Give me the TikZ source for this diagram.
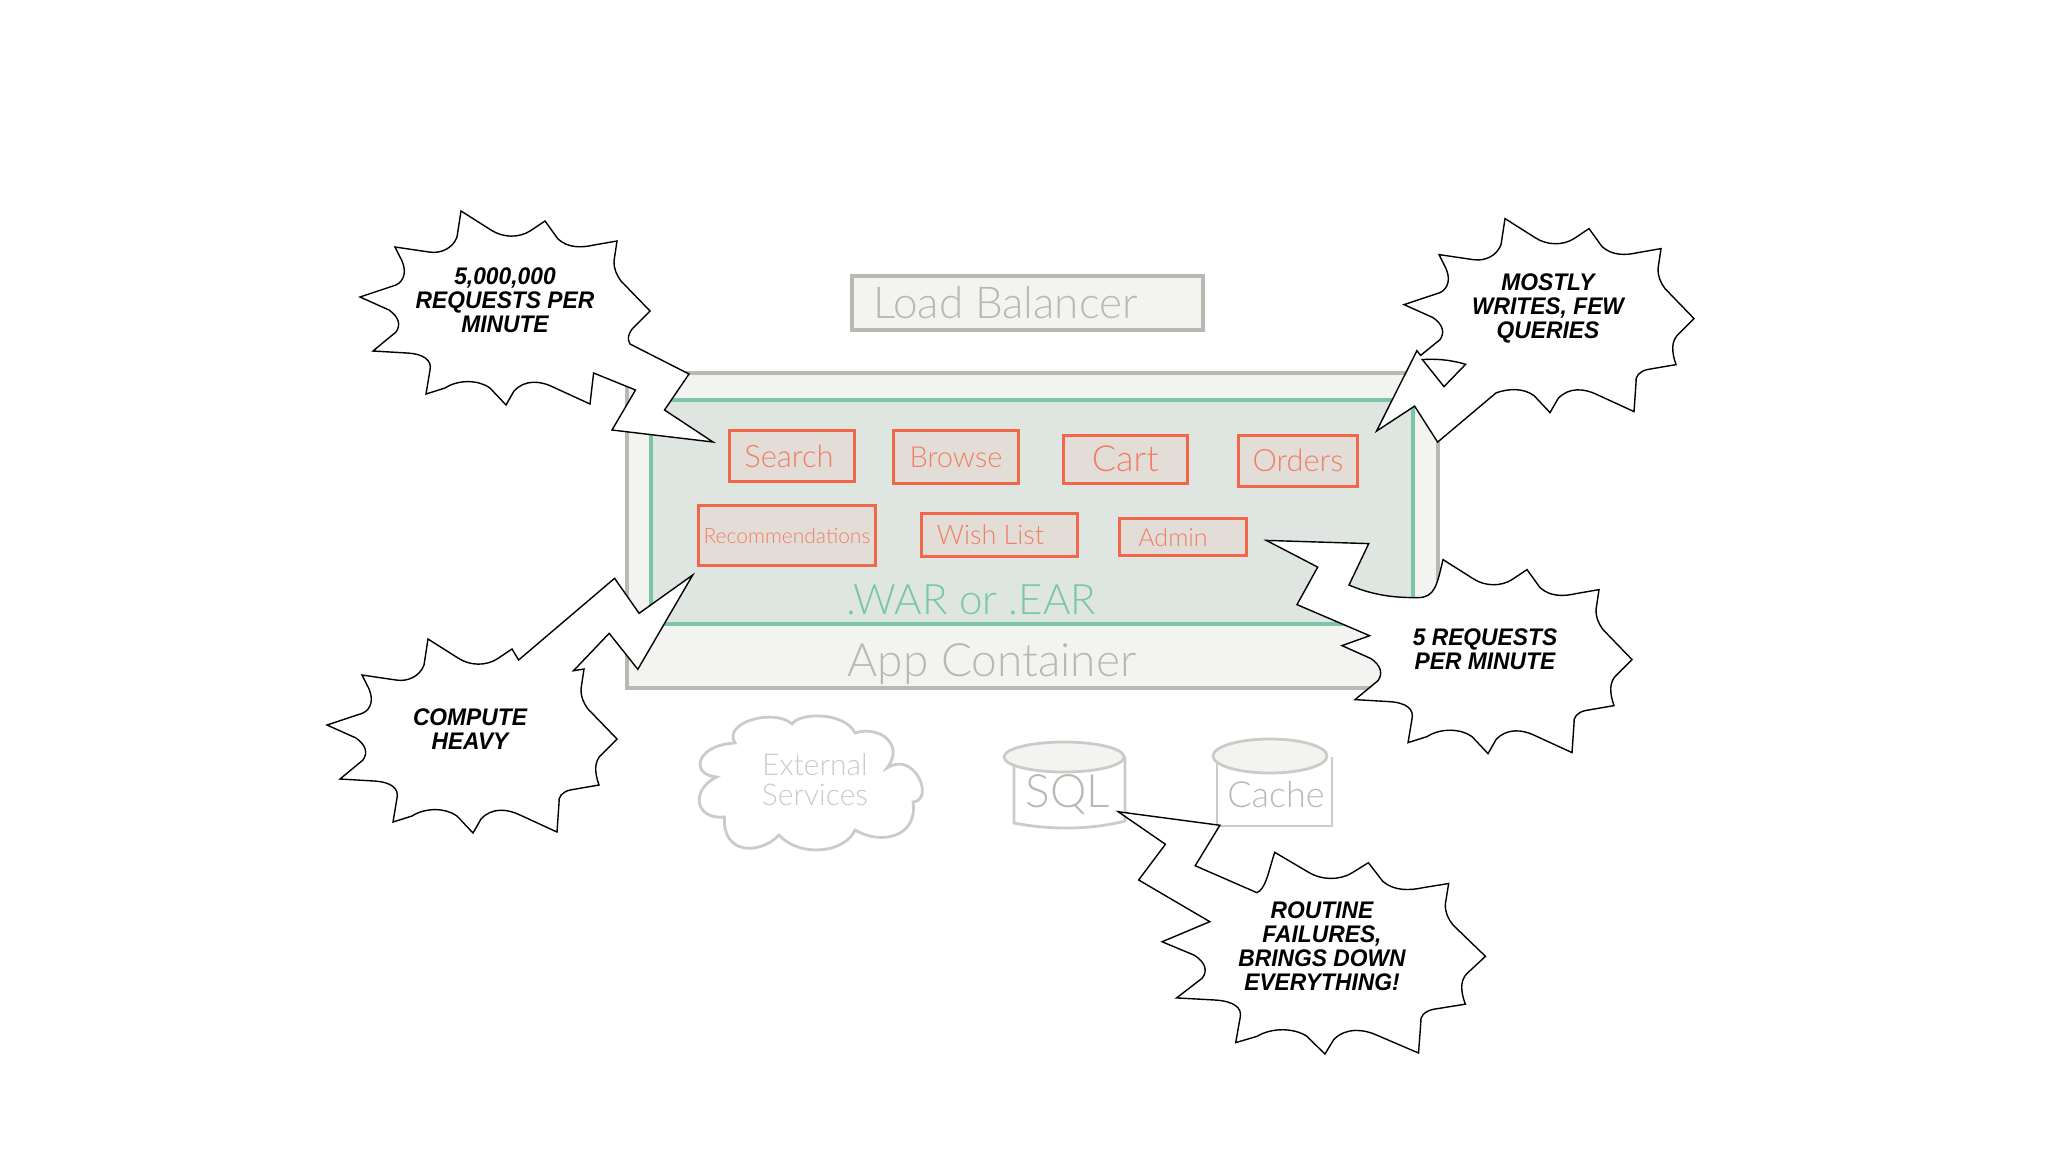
\documentclass[tikz,border=0pt]{standalone}
\usepackage{fontspec}
\newfontfamily\handfont{Lato Light}
\newfontfamily\shoutfont[FakeStretch=0.95]{Liberation Sans Bold Italic}
\definecolor{sketchgray}{HTML}{B9B9B4}
\definecolor{cloudgray}{HTML}{CBCBC7}
\definecolor{boxbg}{HTML}{F3F3F1}
\definecolor{warbg}{HTML}{DFE5E0}
\definecolor{wargreen}{HTML}{79C7A8}
\definecolor{modred}{HTML}{F0674A}
\definecolor{modbg}{HTML}{E3DDD7}
\newcommand{\hand}[1]{\handfont\fontsize{#1}{#1}\selectfont}
\tikzset{
	graybox/.style={draw=sketchgray, fill=boxbg, line width=2pt, inner sep=0pt, text=sketchgray},
	warbox/.style={draw=wargreen, fill=warbg, line width=2pt, inner sep=0pt},
	modbox/.style={draw=modred, fill=modbg, line width=1.5pt, inner sep=0pt, text=modred!85!white},
	dbline/.style={draw=cloudgray, line width=1.4pt},
	burst/.style={draw=black, fill=white, line width=.7pt},
	shout/.style={align=center, inner sep=0pt, font=\shoutfont\fontsize{12}{12}\selectfont}
}
\newcommand{\bursta}{-- (30,19) .. controls (42,27) and (58,27) .. (69,20) -- (84,10)}
\newcommand{\burstb}{-- (97,28) .. controls (107,37) and (120,37) .. (133,34) -- (156,30)}
\newcommand{\burstc}{-- (153,50) .. controls (153,58) and (155,63) .. (160,70) -- (189,100)}
\newcommand{\burstd}{-- (172,117) .. controls (167,123) and (166,132) .. (171,146)}
\newcommand{\burste}{-- (142,151) .. controls (134,153) and (130,158) .. (131,164) -- (129,193)}
\newcommand{\burstf}{-- (92,176) .. controls (80,170) and (64,168) .. (53,180) -- (45,194)}
\newcommand{\burstg}{-- (29,177) .. controls (18,169) and (-2,168) .. (-16,177) -- (-35,183)}
\newcommand{\bursth}{-- (-31,159) .. controls (-29,150) and (-36,143) .. (-54,142) -- (-88,140)}
\newcommand{\bursti}{-- (-65,121) .. controls (-60,114) and (-62,106) .. (-72,99) -- (-101,86)}
\newcommand{\burstj}{-- (-65,74) .. controls (-57,70) and (-53,60) .. (-61,46) -- (-66,36)}
\newcommand{\burstk}{-- (-32,41) .. controls (-20,43) and (-8,37) .. (-4,26) -- (0,0)}
\begin{document}
\begin{tikzpicture}[x=.5pt, y=-.5pt]
	\useasboundingbox (0,0) rectangle (2048,1152);
	\node[graybox, minimum width=175.5pt, minimum height=26.75pt, font=\hand{22}] (lb) at (1027.5,303) {Load Balancer\kern22pt};
	\node[graybox, minimum width=405.5pt, minimum height=157.5pt] (app) at (1032.5,530.5) {};
	\node[warbox, minimum width=381pt, minimum height=112pt] (war) at (1032,512) {};
	\node[text=sketchgray, font=\hand{23}, inner sep=0pt] (applabel) at (992,664) {App Container};
	\node[text=wargreen, font=\hand{21}, inner sep=0pt] (warlabel) at (971,600) {.WAR or .EAR};
	\node[modbox, minimum width=62.3pt, minimum height=25.9pt, font=\hand{15.5}] (search) at (792,456) {Search\kern3pt};
	\node[modbox, minimum width=62.5pt, minimum height=26.2pt, font=\hand{14.5}] (browse) at (956,457) {Browse};
	\node[modbox, minimum width=62pt, minimum height=24pt, font=\hand{18}] (cart) at (1125.3,459) {Cart};
	\node[modbox, minimum width=59.2pt, minimum height=25.7pt, font=\hand{15.4}] (orders) at (1298,460.7) {\raisebox{-2.5pt}{Orders}};
	\node[modbox, minimum width=88.6pt, minimum height=30pt, font=\hand{10.5}] (recs) at (787,535.7) {\raisebox{-1.5pt}{Recommendations}};
	\node[modbox, minimum width=77.7pt, minimum height=21.8pt, font=\hand{13.5}] (wish) at (999.3,535) {Wish List\kern9pt};
	\node[modbox, minimum width=63.8pt, minimum height=18.4pt, font=\hand{12.5}] (admin) at (1183,537) {Admin\kern10pt};
	\draw[dbline, fill=white] (735,743) .. controls (722,722) and (775,708) .. (792,724)
		.. controls (800,712) and (845,712) .. (855,733)
		.. controls (880,725) and (905,745) .. (887,768)
		.. controls (915,750) and (935,800) .. (913,802)
		.. controls (918,838) and (880,845) .. (855,830)
		.. controls (845,853) and (800,858) .. (779,835)
		.. controls (760,855) and (722,855) .. (724.5,817)
		.. controls (695,820) and (690,790) .. (716.6,777)
		.. controls (690,775) and (695,745) .. (735,743) -- cycle;
	\node[text=cloudgray, align=center, inner sep=0pt, font=\handfont\fontsize{15}{15}\selectfont] (extern) at (815,780) {External\\Services};
	\draw[dbline, fill=white] (1014,757) -- (1014,823) .. controls (1050,830) and (1090,830) .. (1125,821) -- (1125,757);
	\draw[dbline, fill=boxbg] (1064,757) ellipse [x radius=60, y radius=15];
	\node[text=sketchgray, font=\hand{23}, inner sep=0pt] (sql) at (1068,795) {SQL};
	\draw[dbline, fill=white] (1217,757) -- (1217,826) -- (1332,826) -- (1332,757);
	\draw[dbline, fill=boxbg] (1270,756) ellipse [x radius=57, y radius=17];
	\node[text=sketchgray, font=\hand{18}, inner sep=0pt] (cache) at (1276,795) {Cache};
	\draw[burst, shift={(461,211)}] (0,0) \bursta \burstb \burstc
		-- (172,117) .. controls (167,123) and (166,128) .. (169,133)
		-- (228,163) -- (203.5,199) -- (252,231) -- (151,219) -- (174.5,179) -- (132.6,162) -- (129,193)
		\burstf \burstg \bursth \bursti \burstj \burstk -- cycle;
	\draw[burst, shift={(1505,218.6)}] (0,0) \bursta \burstb \burstc \burstd \burste \burstf
		-- (29,177) .. controls (18,169) and (3,170) .. (-9,174.3)
		-- (-67.4,223.5) -- (-90.4,187.5) -- (-128.5,212.5) -- (-88.1,132.1) -- (-84.4,136.8)
		\bursti \burstj \burstk -- cycle;
	\draw[burst, shift={(1505,218.6)}] (-82.6,141) .. controls (-70,140) and (-55,141) .. (-39.4,145.7) -- (-61,168) -- cycle;
	\draw[burst, shift={(1443,559.6)}] (0,0) \bursta \burstb \burstc \burstd \burste \burstf \burstg \bursth \bursti
		-- (-73.4,76.1) -- (-146,45) -- (-125.3,7.5) -- (-176.7,-19.2) -- (-74.3,-16) -- (-94,25.4)
		.. controls (-65,38) and (-40,38) .. (-25,38) .. controls (-8,38) and (-6,25) .. (0,0) -- cycle;
	\draw[burst, shift={(428,639)}] (0,0) \bursta
		-- (90.6,21) -- (186.6,-60.7) -- (211.1,-25.7) -- (264.7,-64) -- (209.8,30.3) -- (181.2,-5.7) -- (145.5,31.7) -- (156,30)
		\burstc \burstd \burste \burstf \burstg \bursth \bursti \burstj \burstk -- cycle;
	\draw[burst, shift={(1274.7,852.3)}, xscale=1.115, yscale=1.04] (0,0) \bursta \burstb \burstc \burstd \burste \burstf \burstg \bursth \bursti
		-- (-58.2,66.7) -- (-122,26.6) -- (-98,-7.7) -- (-140.3,-39) -- (-49.2,-26) -- (-71.3,12.9) -- (-16,38.8)
		.. controls (-8,35) and (-6,20) .. (0,0) -- cycle;
	\node[shout] (reqnote) at (505,300) {5,000,000\\REQUESTS PER\\MINUTE};
	\node[shout] (writenote) at (1548,308) {MOSTLY\\WRITES, FEW\\QUERIES};
	\node[shout] (fivenote) at (1485,649) {5 REQUESTS\\PER MINUTE};
	\node[shout] (cpunote) at (470,729) {COMPUTE\\HEAVY};
	\node[shout] (failnote) at (1322,946) {ROUTINE\\FAILURES,\\BRINGS DOWN\\EVERYTHING!};
\end{tikzpicture}
\end{document}
